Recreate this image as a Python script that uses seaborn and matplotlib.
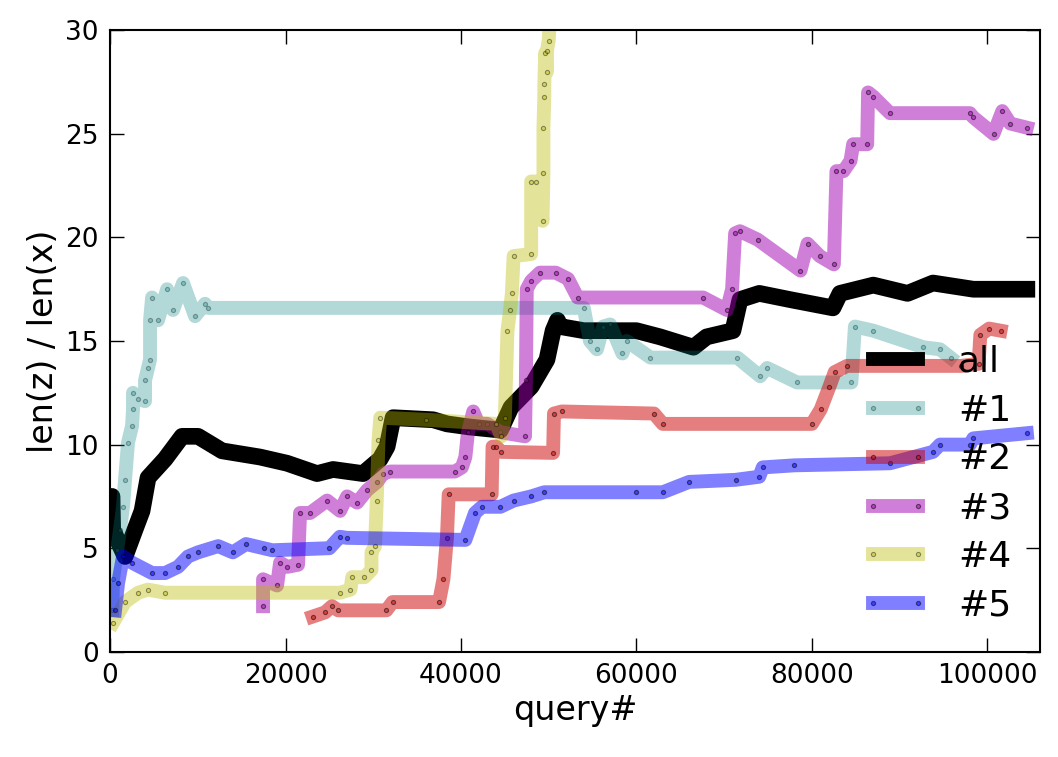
import numpy as np
import pandas as pd
import seaborn as sns
import matplotlib
matplotlib.use("Agg")
import matplotlib.pyplot as plt

# values (query#, len(z)/len(x))
all_x = [0, 228, 300, 1710, 2850, 3650, 4330, 6270, 8210, 10030, 12770, 17100, 20180, 23600,
         25420, 28840, 30780, 31580, 32260, 36820, 38420, 41000, 44500, 45700, 48000, 49800,
         50500, 51000, 51300, 54000, 60000, 62700, 66500, 68000, 71000, 71800, 74000, 77500,
         82400, 83200, 87000, 90900, 93800, 98400, 104500]
all_y = [7.3, 7.5, 5.9, 4.6, 5.9, 6.8, 8.4, 9.3, 10.4, 10.4, 9.7, 9.4, 9.1, 8.6,
         8.8, 8.6, 9.3, 9.9, 11.3, 11.2, 11.0, 10.85, 10.7, 11.8, 12.8, 14.1,
         15.5, 16.0, 15.7, 15.5, 15.5, 15.2, 14.7, 15.2, 15.5, 17.0, 17.3, 17.0,
         16.6, 17.3, 17.7, 17.3, 17.8, 17.5, 17.5]

s1_x = [250, 342, 800, 1140, 1480, 1710, 2050, 2510, 2620, 2620, 3190, 3990, 3990, 4330, 4560,
        4560, 4790, 5470, 6500, 7180, 8320, 9690, 10830, 11170, 54000, 54700, 55500, 56200,
        57000, 58400, 58900, 61600, 71500, 74100, 74900, 78300, 84500, 84900, 87000, 92700,
        94600, 95800]
s1_y = [2.0, 3.5, 4.9, 5.9, 7.0, 8.3, 10.1, 10.9, 11.7, 12.5, 12.2, 12.1, 13.1, 13.7, 14.1,
        16.0, 17.1, 16.0, 17.5, 16.5, 17.8, 16.2, 16.8, 16.6, 16.6, 15.0, 14.6, 15.7,
        15.8, 14.4, 15.0, 14.2, 14.2, 13.3, 13.7, 13.0, 13.0, 15.7, 15.5, 14.7,
        14.6, 14.2]

s2_x = [23100, 24500, 25300, 26000, 31500, 32200, 37500, 38000, 38400, 38600, 43500, 43600,
        44000, 44600, 50500, 50600, 51500, 62000, 63000, 80000, 81000, 82000, 82600, 84000,
        97000, 99000, 99200, 100200, 101500]
s2_y = [1.7, 1.9, 2.2, 2.0, 2.0, 2.4, 2.4, 3.5, 5.5, 7.6, 7.6, 9.9,
        9.9, 9.65, 9.6, 11.5, 11.6, 11.5, 11.0, 11.0, 11.7, 12.8, 13.5, 13.8,
        13.8, 13.9, 15.3, 15.6, 15.5]

s3_x = [17440, 17440, 19040, 19380, 20200, 21430, 21660, 22800, 24740, 26220, 27020, 28160,
        29300, 30440, 31120, 31920, 39300, 40100, 40500, 40800, 41400, 42000, 43000, 44500,
        47300, 47400, 47500, 48000, 49000, 50800, 52200, 53300, 67600, 70300, 70900, 71250,
        71800, 73800, 78700, 79500, 80900, 82500, 82800, 83600, 84400, 84700, 86300, 86400,
        87000, 88900, 98000, 98400, 100700, 101700, 102600, 104500]
s3_y = [2.2, 3.5, 3.2, 4.3, 4.1, 4.2, 6.7, 6.7, 7.3, 6.8, 7.5, 7.2,
        7.8, 8.2, 8.6, 8.7, 8.7, 8.9, 9.4, 10.6, 11.6, 11.0, 11.0, 10.6,
        10.4, 13.1, 17.5, 17.9, 18.3, 18.3, 18.0, 17.1, 17.1, 16.5, 17.5, 20.2,
        20.3, 19.9, 18.4, 19.7, 19.1, 18.7, 23.2, 23.2, 23.7, 24.5, 24.5, 27.0,
        26.8, 26.0, 26.0, 25.8, 25.0, 26.1, 25.5, 25.3]

s4_x = [342, 1710, 3190, 4330, 6270, 26200, 27400, 27600, 29000, 29800, 29800, 30200, 30400,
        30600, 30800, 36000, 44000, 44600, 45000, 45300, 45600, 45800, 46000, 48000, 48000,
        48600, 49300, 49400, 49400, 49500, 49500, 49600, 49800, 49800, 50000, 50200]
s4_y = [1.4, 2.4, 2.85, 3.0, 2.85, 2.85, 3.0, 3.6, 3.6, 3.95, 4.8, 5.1, 7.3,
        10.2, 11.3, 11.2, 11.0, 10.4, 11.3, 15.5, 16.5, 17.3, 19.1, 19.2, 22.7,
        22.7, 20.8, 23.1, 25.3, 26.8, 27.4, 28.9, 28.0, 29.0, 29.5, 31.0]

s5_x = [570, 912, 1480, 2510, 4790, 6270, 7750, 8890, 10030, 12320, 14000, 15500, 17500,
        18500, 25000, 26200, 27000, 40500, 41600, 42400, 44500, 46000, 48000, 49500, 60000,
        63000, 66000, 71300, 74000, 74400, 78000, 88900, 93800, 94600, 98000, 98400, 104500]
s5_y = [2.0, 3.3, 4.6, 4.3, 3.8, 3.8, 4.1, 4.6, 4.8, 5.1, 4.8, 5.2, 5.0,
        4.9, 5.0, 5.55, 5.5, 5.4, 6.7, 7.0, 7.0, 7.3, 7.5, 7.7, 7.7,
        7.7, 8.2, 8.3, 8.45, 8.9, 9.0, 9.1, 9.65, 10.0, 10.0, 10.3, 10.55]

labels = ["all", "#1", "#2", "#3", "#4", "#5"]
xs = [all_x, s1_x, s2_x, s3_x, s4_x, s5_x]
ys = [all_y, s1_y, s2_y, s3_y, s4_y, s5_y]
colors = ["black", "teal", "#cc0000", "#a000b0", "#bbbb00", "blue"]
alphas = [1.0, 0.3, 0.5, 0.5, 0.4, 0.5]
widths = [12, 10, 10, 10, 10, 10]

sns.set_style("ticks")
plt.rcParams["font.family"] = ["DejaVu Sans"]
plt.rcParams.update({"text.color": "black", "axes.labelcolor": "black",
                     "xtick.color": "black", "ytick.color": "black",
                     "axes.edgecolor": "black"})

fig = plt.figure(figsize=(10.58, 7.57), dpi=100)
ax = fig.add_axes([0.104, 0.139, 0.879, 0.821])

for x, y, lab, c, a, w in zip(xs, ys, labels, colors, alphas, widths):
    df = pd.DataFrame({"query": x, "ratio": y})
    sns.lineplot(data=df, x="query", y="ratio", ax=ax, estimator=None, sort=False,
                 color=c, alpha=a, linewidth=w, label=lab,
                 marker="o", markersize=3, markeredgecolor="black",
                 markeredgewidth=0.8, markerfacecolor=c,
                 solid_capstyle="projecting", solid_joinstyle="round")

ax.set_xlim(0, 106000)
ax.set_ylim(0, 30)
ax.set_xticks(np.arange(0, 100001, 20000))
ax.set_yticks(np.arange(0, 31, 5))
ax.ticklabel_format(style="plain", axis="x", useOffset=False)
ax.tick_params(direction="in", length=10, width=1, top=True, right=True, labelsize=19, pad=8)
for sp in ax.spines.values():
    sp.set_linewidth(1.5)
ax.set_xlabel("query#", fontsize=24)
ax.set_ylabel("len(z) / len(x)", fontsize=24)

leg = ax.legend(loc="lower right", frameon=False, fontsize=26, numpoints=2,
                handlelength=1.85, handletextpad=0.8, labelspacing=0.41,
                borderaxespad=0.4)
for h in leg.get_lines():
    h.set_linewidth(10)

fig.savefig("out.png", dpi=100)
